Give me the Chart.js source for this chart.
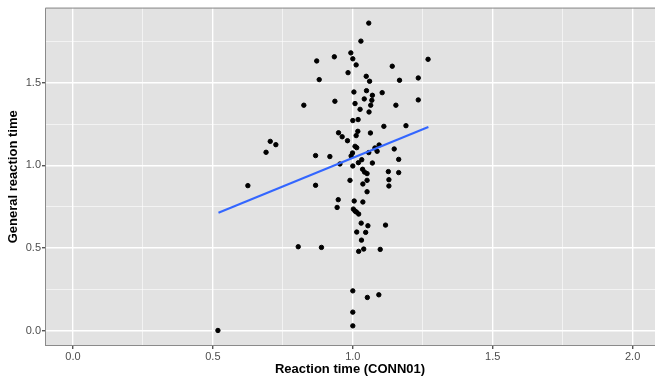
<!DOCTYPE html>
<html>
<head>
<meta charset="utf-8">
<script src="https://cdn.jsdelivr.net/npm/chart.js@4"></script>
<style>
  html, body { margin: 0; padding: 0; background: #fff; }
  #wrap { width: 655px; height: 379px; }
</style>
</head>
<body>
<div id="wrap"><canvas id="scatterChart"></canvas></div>
<script>
// Reaction time (CONN01) vs general reaction time
const connTimes = [
  1.057, 1.029, 0.993, 1.000, 1.012, 0.871, 0.934, 0.983, 0.880, 1.048,
  1.060, 1.141, 1.167, 1.234, 1.269, 1.004, 1.049, 1.070, 1.105, 1.041,
  1.068, 0.936, 0.825, 1.008, 1.064, 1.026, 1.058, 1.154, 1.234, 1.000,
  1.019, 1.111, 1.190, 0.949, 0.962, 0.981, 1.018, 1.012, 1.063, 0.705,
  0.725, 0.690, 1.008, 1.014, 1.094, 1.079, 1.087, 1.148, 1.057, 0.999,
  0.994, 0.867, 0.918, 1.164, 1.032, 1.020, 1.070, 0.954, 1.000, 1.035,
  1.042, 1.051, 1.127, 1.164, 0.990, 1.051, 1.036, 1.129, 1.129, 0.625,
  0.867, 1.051, 0.948, 0.944, 1.005, 1.036, 1.002, 1.008, 1.013, 1.021,
  1.030, 1.054, 1.117, 1.014, 1.046, 1.031, 0.805, 0.888, 1.021, 1.039,
  1.098, 1.000, 1.093, 1.052, 1.000, 1.000, 0.518
]
const generalTimes = [
  1.861, 1.752, 1.681, 1.645, 1.608, 1.632, 1.657, 1.561, 1.519, 1.539,
  1.509, 1.600, 1.515, 1.529, 1.642, 1.444, 1.452, 1.424, 1.440, 1.402,
  1.394, 1.388, 1.364, 1.374, 1.364, 1.339, 1.323, 1.364, 1.396, 1.271,
  1.277, 1.236, 1.240, 1.197, 1.173, 1.149, 1.206, 1.180, 1.196, 1.145,
  1.125, 1.079, 1.115, 1.107, 1.123, 1.105, 1.085, 1.099, 1.077, 1.075,
  1.057, 1.059, 1.053, 1.036, 1.034, 1.016, 1.014, 1.008, 0.996, 0.976,
  0.959, 0.950, 0.962, 0.956, 0.909, 0.909, 0.887, 0.913, 0.875, 0.877,
  0.879, 0.840, 0.792, 0.745, 0.784, 0.778, 0.735, 0.723, 0.717, 0.705,
  0.650, 0.634, 0.638, 0.596, 0.594, 0.547, 0.507, 0.503, 0.479, 0.493,
  0.491, 0.240, 0.216, 0.200, 0.111, 0.028, 0.000
]
// linear fit, drawn between the ends of the data
const fitX = [0.52, 1.27]
const fitY = [0.713, 1.232]

const xTicks = [0, 0.25, 0.5, 0.75, 1, 1.25, 1.5, 1.75, 2]
const yTicks = [0, 0.25, 0.5, 0.75, 1, 1.25, 1.5, 1.75]

const isMajor = v => Math.abs(v * 2 - Math.round(v * 2)) < 1e-6

const points = connTimes.map((x, i) => ({ x: x, y: generalTimes[i] }))
const fitLine = fitX.map((x, i) => ({ x: x, y: fitY[i] }))

// grey panel + border, like ggplot's theme_grey
const panelBg = {
  id: 'panelBg',
  beforeDraw(chart) {
    const { ctx, chartArea: a } = chart
    ctx.save()
    ctx.fillStyle = '#E2E2E2'
    ctx.fillRect(a.left, a.top, a.right - a.left, a.bottom - a.top)
    ctx.restore()
  },
  afterDraw(chart) {
    const { ctx, chartArea: a } = chart
    ctx.save()
    ctx.strokeStyle = '#8a8a8a'
    ctx.lineWidth = 1
    ctx.beginPath()
    ctx.moveTo(a.left + 0.5, a.bottom)
    ctx.lineTo(a.left + 0.5, a.top + 0.5)
    ctx.lineTo(a.right, a.top + 0.5)
    ctx.moveTo(a.left, a.bottom - 0.5)
    ctx.lineTo(a.right, a.bottom - 0.5)
    ctx.stroke()
    ctx.restore()
  }
}

const tickFont = { family: 'Liberation Sans, Arial, sans-serif', size: 11 }
const titleFont = { family: 'Liberation Sans, Arial, sans-serif', size: 13, weight: 'bold' }

function gridOpts() {
  return {
    color: '#ffffff',
    lineWidth: c => (c.tick && isMajor(c.tick.value)) ? 1.4 : 0.6,
    tickColor: c => (c.tick && isMajor(c.tick.value)) ? '#555555' : 'rgba(0,0,0,0)',
    tickLength: 3,
    drawTicks: true
  }
}

new Chart(document.getElementById('scatterChart'), {
  type: 'scatter',
  data: {
    datasets: [
      {
        label: 'Participants',
        data: points,
        backgroundColor: '#000000',
        borderColor: '#000000',
        pointRadius: 2.2,
        pointHoverRadius: 2.2,
        order: 2
      },
      {
        type: 'line',
        label: 'Linear fit',
        data: fitLine,
        borderColor: '#3366FF',
        borderWidth: 2,
        pointRadius: 0,
        fill: false,
        order: 1
      }
    ]
  },
  options: {
    responsive: true,
    maintainAspectRatio: false,
    animation: false,
    layout: { autoPadding: false, padding: { top: 7, right: 0, bottom: 0, left: 0 } },
    plugins: {
      legend: { display: false },
      tooltip: { enabled: false }
    },
    scales: {
      x: {
        type: 'linear',
        min: -0.1,
        max: 2.08,
        afterBuildTicks: s => { s.ticks = xTicks.map(v => ({ value: v })) },
        afterFit: s => { s.height = 33 },
        grid: gridOpts(),
        border: { display: false },
        ticks: {
          autoSkip: false,
          maxRotation: 0,
          padding: 1,
          color: '#4D4D4D',
          font: tickFont,
          callback: v => isMajor(v) ? v.toFixed(1) : ''
        },
        title: {
          display: true,
          text: 'Reaction time (CONN01)',
          color: '#000000',
          font: titleFont,
          padding: { top: 2, bottom: 2 }
        }
      },
      y: {
        type: 'linear',
        min: -0.094,
        max: 1.955,
        afterBuildTicks: s => { s.ticks = yTicks.map(v => ({ value: v })) },
        afterFit: s => { s.width = 45 },
        grid: gridOpts(),
        border: { display: false },
        ticks: {
          autoSkip: false,
          padding: 1,
          color: '#4D4D4D',
          font: tickFont,
          callback: v => isMajor(v) ? v.toFixed(1) : ''
        },
        title: {
          display: true,
          text: 'General reaction time',
          color: '#000000',
          font: titleFont,
          padding: { top: 6, bottom: 2 }
        }
      }
    }
  },
  plugins: [panelBg]
})
</script>
</body>
</html>
